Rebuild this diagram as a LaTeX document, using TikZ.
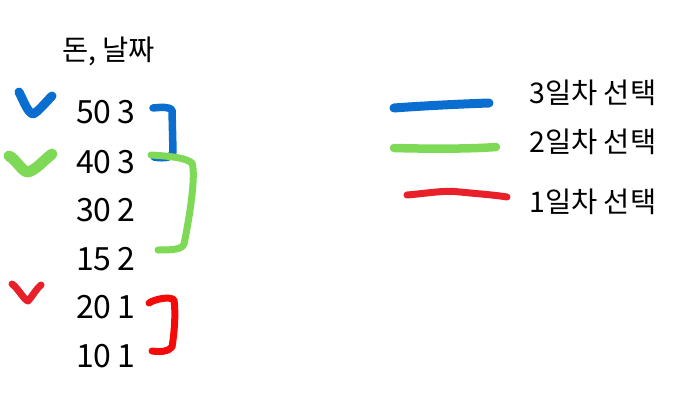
\documentclass[tikz,border=0pt]{standalone}
\usepackage{fontspec}
\setmainfont{Noto Sans CJK KR}
\definecolor{mblue}{HTML}{0A6ED1}
\definecolor{mgreen}{HTML}{7ED957}
\definecolor{mred}{HTML}{E8202A}
\definecolor{bred}{HTML}{F50A0A}
\tikzset{
  txt/.style={anchor=base west, inner sep=0pt, font=\fontsize{28.5}{30}\selectfont},
  num/.style={anchor=base west, inner sep=0pt, font=\fontsize{32}{34}\selectfont},
  pen/.style={line cap=round, line join=round, line width=#1},
}
\begin{document}
\begin{tikzpicture}[x=1pt,y=-1pt]
\useasboundingbox (0,0) rectangle (677,412);
% title and rows
\node[txt] (title) at (62,60) {돈, 날짜};
\node[num] (r1) at (76,123) {50\kern-1pt\ 3};
\node[num] (r2) at (76,173) {40\kern-1pt\ 3};
\node[num] (r3) at (76,221) {30\kern-1pt\ 2};
\node[num] (r4) at (76,270) {15\kern-1pt\ 2};
\node[num] (r5) at (76,318) {20\kern-1pt\ 1};
\node[num] (r6) at (76,367) {10\kern-1pt\ 1};
% legend
\node[txt] (l3) at (529,103) {3일차 선택};
\node[txt] (l2) at (529,152) {2일차 선택};
\node[txt] (l1) at (529,212) {1일차 선택};
% check marks
\draw[mblue, pen=9pt] (19,92) .. controls (24,102) and (28,113) .. (33,114) .. controls (38,112) and (45,103) .. (52,96);
\draw[mgreen, pen=11pt] (9,156) .. controls (16,159) and (22,172) .. (28,172) .. controls (36,170) and (44,160) .. (52,154);
\draw[mred, pen=7pt] (12,284) .. controls (18,288) and (24,300) .. (28,301) .. controls (32,297) and (36,289) .. (41,285);
% brackets
\draw[mblue, pen=7.5pt] (153,108) .. controls (162,107) and (170,107) .. (172,110) -- (173,152) .. controls (173,157) and (165,159) .. (154,157);
\draw[mgreen, pen=7pt] (151,155) .. controls (165,156) and (185,157) .. (192,163) .. controls (196,175) and (190,215) .. (184,244) .. controls (182,250) and (170,250) .. (158,250);
\draw[bred, pen=7pt] (149,303) .. controls (155,299) and (170,296) .. (174,300) .. controls (176,315) and (174,335) .. (172,347) .. controls (168,352) and (160,352) .. (152,351);
% legend strokes
\draw[mblue, pen=9pt] (394,108) .. controls (420,106) and (460,104) .. (489,103);
\draw[mgreen, pen=8.5pt] (394,148) .. controls (430,149) and (470,149) .. (496,147);
\draw[mred, pen=7pt] (407,195) .. controls (430,193) and (445,190) .. (460,192) .. controls (480,194) and (495,195) .. (507,197);
\end{tikzpicture}
\end{document}
